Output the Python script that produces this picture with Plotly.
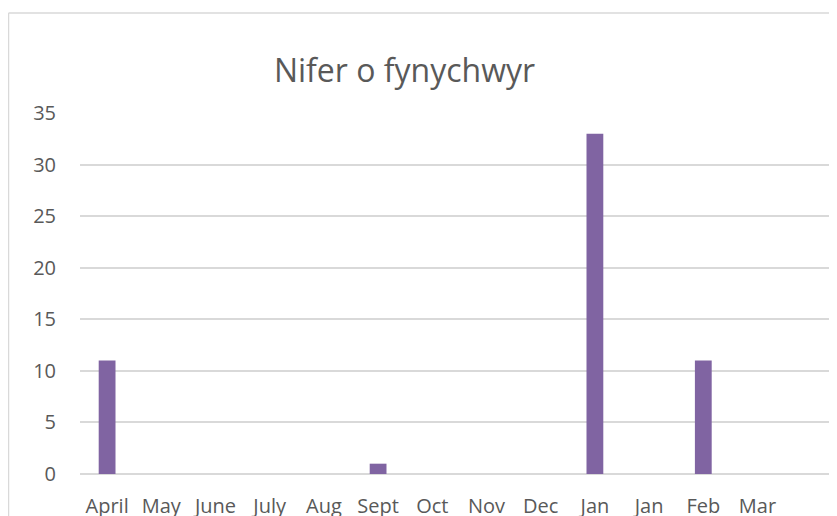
import plotly.graph_objects as go

months = ["April", "May", "June", "July", "Aug", "Sept", "Oct", "Nov", "Dec", "Jan", "Jan", "Feb", "Mar"]
attendees = [11, 0, 0, 0, 0, 1, 0, 0, 0, 33, 0, 11, 0]
y_ticks = [0, 5, 10, 15, 20, 25, 30, 35]
title_text = "Nifer o fynychwyr"

positions = list(range(len(months)))

W, H = 837, 516
ML, MT, MB = 72, 105, 50
plot_w = W - ML
plot_h = H - MT - MB

fig = go.Figure()
fig.add_trace(go.Bar(x=positions, y=attendees, marker_color="#8064A2",
                     marker_line_width=0))

fig.update_layout(
    width=W, height=H,
    margin=dict(l=ML, r=0, t=MT, b=MB),
    paper_bgcolor="white", plot_bgcolor="white",
    bargap=0.69,
    showlegend=False,
    font=dict(family="Open Sans, sans-serif", color="#595959", size=20),
    title=dict(text=title_text, x=0.4737, xanchor="center", y=1 - 63 / H, yanchor="middle",
               font=dict(size=32, color="#595959")),
    xaxis=dict(range=[-0.5, -0.5 + plot_w / 54.2], tickmode="array", tickvals=positions,
               ticktext=months, showgrid=False, zeroline=False, showline=False,
               ticks="outside", ticklen=14, tickcolor="rgba(0,0,0,0)",
               tickfont=dict(size=20, color="#595959"), fixedrange=True),
    yaxis=dict(range=[0, 35], tickvals=y_ticks, showgrid=True, gridcolor="#d9d9d9",
               gridwidth=1.5, zeroline=True, zerolinecolor="#d9d9d9", zerolinewidth=1.5,
               tickfont=dict(size=20, color="#595959"), ticks="outside", ticklen=19,
               tickcolor="rgba(0,0,0,0)", fixedrange=True),
)

# chart-area border (left and top edges visible in the crop)
bx = (0.5 - ML) / plot_w
by = (plot_h + MT - 5) / plot_h
fig.add_shape(type="line", xref="paper", yref="paper",
              x0=bx, x1=bx, y0=-0.3, y1=by,
              line=dict(color="#d9d9d9", width=1.5))
fig.add_shape(type="line", xref="paper", yref="paper",
              x0=bx, x1=1.02, y0=by, y1=by,
              line=dict(color="#d9d9d9", width=1.5))

fig.write_html("out.html")
